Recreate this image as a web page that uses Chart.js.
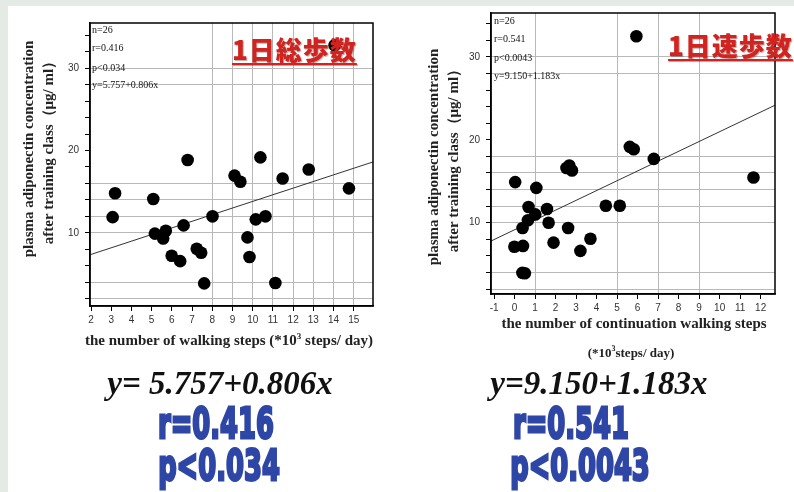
<!DOCTYPE html>
<html>
<head>
<meta charset="utf-8">
<script src="https://cdn.jsdelivr.net/npm/chart.js@4.4.1/dist/chart.umd.min.js"></script>
<style>
body { margin: 0; width: 794px; height: 492px; overflow: hidden; background: #fff; position: relative; font-family: "Liberation Serif", serif; }
#edgeL { position: absolute; left: 0; top: 0; width: 8px; height: 492px; background: #e4eae4; }
#edgeT { position: absolute; left: 0; top: 0; width: 794px; height: 6px; background: #e4eae4; }
.box { position: absolute; top: 0; height: 340px; }
#boxL { left: 0; width: 400px; }
#boxR { left: 400px; width: 394px; }
.c { position: absolute; white-space: nowrap; line-height: 1; transform: translate(-50%, -50%); }
.ytitle { font-size: 15px; font-weight: bold; color: #222; transform: translate(-50%, -50%) rotate(-90deg); }
.xtitle { font-size: 15px; font-weight: bold; color: #222; }
.note { position: absolute; white-space: nowrap; line-height: 1; font-size: 10px; color: #111; transform: translateY(-50%); }
.red { position: absolute; white-space: nowrap; line-height: 1; font-family: "Noto Sans CJK JP", sans-serif; font-weight: 900;
       font-size: 26px; letter-spacing: 1px; color: #cf2420; text-decoration: underline; text-decoration-thickness: 2px;
       text-underline-offset: 3px; text-shadow: 1px 1px 1px rgba(90,0,0,0.35); }
.eq { font-size: 33px; font-style: italic; font-weight: bold; color: #111; }
.big { font-family: "DejaVu Sans", sans-serif; font-weight: bold; font-size: 43px; color: #2e46a6;
       -webkit-text-stroke: 3px #2e46a6; transform: translate(-50%, -50%) scaleX(0.6); text-shadow: 0 1px 1px rgba(0,0,60,0.3); }
</style>
</head>
<body>
<div id="edgeL"></div><div id="edgeT"></div>
<div class="box" id="boxL"><canvas id="chartL"></canvas></div>
<div class="box" id="boxR"><canvas id="chartR"></canvas></div>

<div class="c ytitle" style="left:28px; top:149px;">plasma adiponectin concentration</div>
<div class="c ytitle" style="left:48px; top:149px;">after training class（μg/ ml）</div>
<div class="c ytitle" style="left:433px; top:157px;">plasma adiponectin concentration</div>
<div class="c ytitle" style="left:453px; top:157px;">after training class（μg/ ml）</div>

<div class="c xtitle" style="left:229px; top:340px;">the number of walking steps (*10<sup style="font-size:9px">3</sup> steps/ day)</div>
<div class="c xtitle" style="left:634px; top:323px;">the number of continuation walking steps</div>
<div class="c xtitle" style="left:631px; top:352px; font-size:13px;">(*10<sup style="font-size:8px">3</sup>steps/ day)</div>

<div class="note" style="left:92px; top:30px;">n=26</div>
<div class="note" style="left:92px; top:48px;">r=0.416</div>
<div class="note" style="left:92px; top:68px;">p&lt;0.034</div>
<div class="note" style="left:92px; top:85px;">y=5.757+0.806x</div>
<div class="note" style="left:494px; top:21px;">n=26</div>
<div class="note" style="left:494px; top:39px;">r=0.541</div>
<div class="note" style="left:494px; top:58px;">p&lt;0.0043</div>
<div class="note" style="left:494px; top:76px;">y=9.150+1.183x</div>

<div class="red" style="left:232px; top:36px;">1日総歩数</div>
<div class="red" style="left:668px; top:32px;">1日速歩数</div>

<div class="c eq" style="left:220px; top:383px;">y= 5.757+0.806x</div>
<div class="c eq" style="left:599px; top:383px;">y=9.150+1.183x</div>
<div class="c big" style="left:216px; top:423px;">r=0.416</div>
<div class="c big" style="left:219px; top:465px;">p&lt;0.034</div>
<div class="c big" style="left:571px; top:423px;">r=0.541</div>
<div class="c big" style="left:580px; top:465px;">p&lt;0.0043</div>

<script>
// total daily steps (x 10^3) vs adiponectin
const totalSteps = [3.19, 3.07, 5.08, 5.16, 5.57, 5.7, 5.99, 6.41, 6.58, 6.78, 7.23, 7.45, 7.6,
                    8.01, 9.1, 9.39, 9.74, 9.84, 10.38, 10.15, 10.63, 11.12, 11.48, 12.77, 14.76, 14.05];
const totalAdipo = [14.8, 11.9, 14.1, 9.9, 9.3, 10.25, 7.2, 6.55, 10.9, 18.85, 8.05, 7.57, 3.85,
                    12.0, 16.95, 16.2, 9.44, 7.05, 19.17, 11.63, 12.0, 3.9, 16.6, 17.7, 15.4, 32.8];
const totalFit = [5.757, 0.806];   // intercept, slope

// continuous (brisk) walking steps vs adiponectin
const briskSteps = [5.94, 0.03, 1.06, 0.68, 1.58, 1.01, 0.65, 1.66, 0.39, -0.01, 0.41, 0.38, 0.5,
                    1.9, 2.61, 2.53, 2.67, 2.8, 3.21, 3.7, 4.45, 5.13, 5.62, 5.81, 6.79, 11.65];
const briskAdipo = [32.5, 14.9, 14.2, 11.9, 11.65, 11.0, 10.3, 10.0, 9.36, 7.1, 7.2, 3.95, 3.9,
                    7.6, 9.36, 16.6, 16.9, 16.3, 6.6, 8.07, 12.05, 12.05, 19.15, 18.87, 17.7, 15.45];
const briskFit = [9.150, 1.183];

const totalXTicks = [2, 3, 4, 5, 6, 7, 8, 9, 10, 11, 12, 13, 14, 15];
const briskXTicks = [-1, 0, 1, 2, 3, 4, 5, 6, 7, 8, 9, 10, 11, 12];
const yTicks = [2, 4, 6, 8, 10, 12, 14, 16, 18, 20, 22, 24, 26, 28, 30, 32, 34];
const yLabels = [10, 20, 30];

// grid lines the original plot shows
const totalGridX = [8, 9, 10, 11, 12, 13, 14, 15];
const totalGridY = [2, 4, 10, 12, 14, 16, 28, 30];
const briskGridX = [1, 5, 7, 9];
const briskGridY = [2, 4, 10, 12, 14, 16, 18, 28, 30];

const frame = {
    id: 'frame',
    afterDraw(chart) {
        const ctx = chart.ctx, a = chart.chartArea;
        ctx.save();
        ctx.strokeStyle = '#000';
        ctx.lineWidth = 1.5;
        ctx.strokeRect(a.left, a.top, a.right - a.left, a.bottom - a.top);
        ctx.restore();
    }
};

function scatterChart(id, xs, ys, fit, opt) {
    var pts = xs.map(function (x, i) { return { x: x, y: ys[i] }; });
    var line = [opt.xMin, opt.xMax].map(function (x) { return { x: x, y: fit[0] + fit[1] * x }; });
    var tickFont = { family: 'Liberation Sans', size: 10 };

    return new Chart(document.getElementById(id), {
        type: 'scatter',
        data: {
            datasets: [
                { data: pts, backgroundColor: '#000', borderWidth: 0, pointRadius: 6.3, pointHoverRadius: 6.3 },
                { type: 'line', data: line, borderColor: '#333', borderWidth: 1, pointRadius: 0, fill: false }
            ]
        },
        options: {
            responsive: true,
            maintainAspectRatio: false,
            animation: false,
            layout: { padding: opt.pad },
            plugins: { legend: { display: false }, tooltip: { enabled: false } },
            scales: {
                x: {
                    type: 'linear', min: opt.xMin, max: opt.xMax,
                    afterBuildTicks: function (s) { s.ticks = opt.xTicks.map(function (v) { return { value: v }; }); },
                    afterFit: function (s) { s.height = opt.xH; },
                    ticks: { autoSkip: false, maxRotation: 0, padding: 3, color: '#333', font: tickFont },
                    grid: {
                        color: function (c) { return opt.gridX.includes(c.tick && c.tick.value) ? '#b8b8b8' : 'rgba(0,0,0,0)'; },
                        tickColor: '#000', tickLength: 5
                    },
                    border: { color: '#000', width: 1.5 }
                },
                y: {
                    type: 'linear', min: opt.yMin, max: opt.yMax,
                    afterBuildTicks: function (s) { s.ticks = yTicks.map(function (v) { return { value: v }; }); },
                    afterFit: function (s) { s.width = opt.yW; },
                    ticks: {
                        autoSkip: false, padding: 6, color: '#333', font: tickFont,
                        callback: function (v) { return yLabels.includes(v) ? v : ''; }
                    },
                    grid: {
                        color: function (c) { return opt.gridY.includes(c.tick && c.tick.value) ? '#b8b8b8' : 'rgba(0,0,0,0)'; },
                        tickColor: '#000', tickLength: 5
                    },
                    border: { color: '#000', width: 1.5 }
                }
            }
        },
        plugins: [frame]
    });
}

scatterChart('chartL', totalSteps, totalAdipo, totalFit, {
    xMin: 1.95, xMax: 15.95, yMin: 1.1, yMax: 35.5,
    xTicks: totalXTicks, gridX: totalGridX, gridY: totalGridY,
    pad: { left: 0, top: 23, right: 27, bottom: 0 }, yW: 90, xH: 34
});

scatterChart('chartR', briskSteps, briskAdipo, briskFit, {
    xMin: -1.15, xMax: 12.7, yMin: 1.4, yMax: 35.3,
    xTicks: briskXTicks, gridX: briskGridX, gridY: briskGridY,
    pad: { left: 0, top: 13, right: 19, bottom: 0 }, yW: 91, xH: 46
});
</script>
</body>
</html>
